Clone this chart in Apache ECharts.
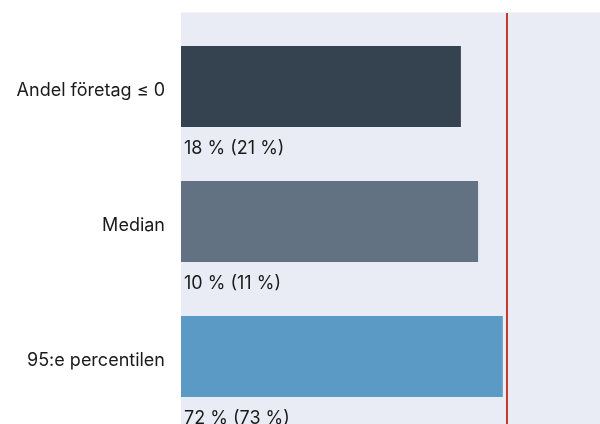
<!DOCTYPE html>
<html>
<head>
<meta charset="utf-8">
<script src="https://cdn.jsdelivr.net/npm/echarts@6/dist/echarts.min.js"></script>
<style>
html,body{margin:0;padding:0;background:#fff;}
#chart{width:600px;height:424px;}
</style>
</head>
<body>
<div id="chart"></div>
<script>
const categories = ['Andel företag ≤ 0', 'Median', '95:e percentilen'];
const barValues = [66.8, 70.9, 76.8];
const barLabels = ['18 % (21 %)', '10 % (11 %)', '72 % (73 %)'];
const barColors = ['#35424f', '#637282', '#5a9ac4'];
const refLineValue = 77.8;
const xMin = 0, xMax = 100;

const chart = echarts.init(document.getElementById('chart'), null, {renderer: 'canvas'});
const font = 'Inter, "Noto Sans", sans-serif';

chart.setOption({
  animation: false,
  backgroundColor: '#ffffff',
  grid: [
    {left: 181, right: 0, top: 19, bottom: 0, containLabel: false},
    {left: 181, right: 0, top: 13, bottom: 0, show: true, backgroundColor: '#e9ecf4', borderWidth: 0, z: 0}
  ],
  graphic: [{
    type: 'rect', shape: {x: 181, y: 12, width: 419, height: 1},
    style: {fill: '#f3f4f7'}, silent: true
  }],
  xAxis: [
    {gridIndex: 0, type: 'value', min: xMin, max: xMax, show: false},
    {gridIndex: 1, type: 'value', min: xMin, max: xMax, show: false}
  ],
  yAxis: [
    {
      gridIndex: 0, type: 'category', inverse: true, data: categories,
      axisLine: {show: false}, axisTick: {show: false}, splitLine: {show: false},
      axisLabel: {color: '#1a1a1a', fontSize: 18, fontFamily: font, margin: 16,
        verticalAlign: 'top', lineHeight: 8}
    },
    {gridIndex: 1, type: 'value', min: 0, max: 1, show: false}
  ],
  series: [
    {
      type: 'bar', xAxisIndex: 0, yAxisIndex: 0, barWidth: 81, z: 3,
      data: barValues.map((v, i) => ({value: v, itemStyle: {color: barColors[i]}})),
      label: {
        show: true, position: [3, 103], verticalAlign: 'middle', align: 'left',
        color: '#1a1a1a', fontSize: 18, fontFamily: font,
        formatter: p => barLabels[p.dataIndex]
      }
    },
    {
      type: 'line', xAxisIndex: 1, yAxisIndex: 1, z: 4,
      data: [[refLineValue, 0], [refLineValue, 1]],
      symbol: 'none', lineStyle: {color: '#c0392b', width: 2}
    }
  ]
});
</script>
</body>
</html>
